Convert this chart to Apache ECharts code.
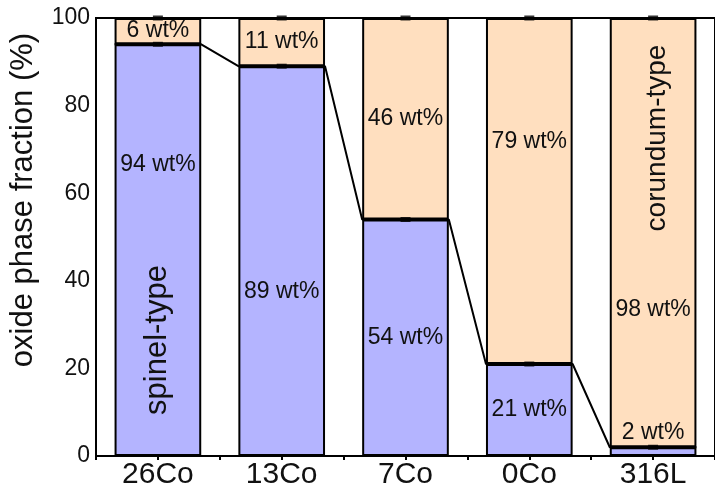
<!DOCTYPE html>
<html>
<head>
<meta charset="utf-8">
<script src="https://cdn.jsdelivr.net/npm/echarts@6/dist/echarts.min.js"></script>
<style>
html,body{margin:0;padding:0;background:#fff;}
#chart{width:715px;height:490px;}
</style>
</head>
<body>
<div id="chart"></div>
<script>
// ---- data ----
var categories = ['26Co', '13Co', '7Co', '0Co', '316L'];
var spinel = [94, 89, 54, 21, 2];
var corundum = [6, 11, 46, 79, 98];
var yTicks = [0, 20, 40, 60, 80, 100];
var spinelLabels = ['94 wt%', '89 wt%', '54 wt%', '21 wt%', '2 wt%'];
var corundumLabels = ['6 wt%', '11 wt%', '46 wt%', '79 wt%', '98 wt%'];

// ---- layout / style (not data) ----
var FONT = 'Liberation Sans';
var SPINEL_COLOR = '#B4B4FF';
var CORUNDUM_COLOR = '#FFDFBF';
var BAR_FRAC = 0.7;
var spinelLabelOffsets = [-85, 31, 0, 0, null];
var corundumLabelOffsets = [0, 0, 0, -49, 77];

var chart = echarts.init(document.getElementById('chart'), null, {renderer: 'canvas'});

var spinelData = spinel.map(function (v, i) {
  var item = {value: v};
  if (spinelLabelOffsets[i] === null) {
    item.label = {position: 'top', distance: 3};
  } else {
    item.label = {offset: [0, spinelLabelOffsets[i]]};
  }
  return item;
});
var corundumData = corundum.map(function (v, i) {
  return {value: v, label: {offset: [0, corundumLabelOffsets[i]]}};
});

// connecting line along the spinel tops, from bar edge to bar edge
var lineData = [];
spinel.forEach(function (v, i) {
  lineData.push([i - BAR_FRAC / 2, v]);
  lineData.push([i + BAR_FRAC / 2, v]);
});

// error bar caps (segment tops)
var totals = spinel.map(function (v, i) { return v + corundum[i]; });
var capData = [];
spinel.forEach(function (v, i) { capData.push([i, v]); });
totals.forEach(function (v, i) { capData.push([i, v]); });

function labelStyle(texts) {
  return {
    show: true, position: 'inside', color: '#111', fontFamily: FONT, fontSize: 23,
    formatter: function (p) { return texts[p.dataIndex]; }
  };
}

chart.setOption({
  animation: false,
  backgroundColor: '#fff',
  grid: {left: 96, right: -8, top: 18, bottom: 33, show: true, borderColor: '#000', borderWidth: 2, backgroundColor: 'transparent'},
  xAxis: [
    {
      type: 'category', data: categories, boundaryGap: true,
      axisLine: {lineStyle: {color: '#000', width: 2}},
      axisTick: {alignWithLabel: true, length: 7, lineStyle: {color: '#000', width: 2}},
      axisLabel: {color: '#111', fontFamily: FONT, fontSize: 30, margin: 4},
      splitLine: {show: false}
    },
    {
      type: 'value', min: -0.5, max: 4.5, interval: 0.5, position: 'bottom',
      axisLine: {show: false},
      axisTick: {show: true, length: 4, lineStyle: {color: '#000', width: 2}},
      axisLabel: {show: false},
      splitLine: {show: false}
    }
  ],
  yAxis: {
    type: 'value', min: yTicks[0], max: yTicks[yTicks.length - 1], interval: 20,
    axisLine: {show: true, lineStyle: {color: '#000', width: 2}},
    axisTick: {show: true, length: 8, lineStyle: {color: '#000', width: 2}},
    minorTick: {show: true, splitNumber: 2, length: 4, lineStyle: {color: '#000', width: 2}},
    axisLabel: {color: '#111', fontFamily: FONT, fontSize: 23, margin: 6},
    splitLine: {show: false}
  },
  series: [
    {
      name: 'spinel', type: 'bar', stack: 'total', xAxisIndex: 0,
      barWidth: (BAR_FRAC * 100) + '%',
      data: spinelData,
      itemStyle: {color: SPINEL_COLOR, borderColor: '#000', borderWidth: 2},
      label: labelStyle(spinelLabels)
    },
    {
      name: 'corundum', type: 'bar', stack: 'total', xAxisIndex: 0,
      data: corundumData,
      itemStyle: {color: CORUNDUM_COLOR, borderColor: '#000', borderWidth: 2},
      label: labelStyle(corundumLabels)
    },
    {
      name: 'link', type: 'line', xAxisIndex: 1, data: lineData,
      showSymbol: false, symbol: 'none',
      lineStyle: {color: '#000', width: 2}, z: 5
    },
    {
      name: 'err', type: 'scatter', xAxisIndex: 0, data: capData,
      symbol: 'rect', symbolSize: [10, 5], itemStyle: {color: '#000'}, z: 6
    }
  ],
  graphic: [
    {type: 'text', rotation: Math.PI / 2, position: [23, 200], z: 100,
     style: {text: 'oxide phase fraction (%)', fill: '#111', font: '31px "Liberation Sans"', textAlign: 'center', textVerticalAlign: 'middle'}},
    {type: 'text', rotation: Math.PI / 2, position: [157, 340], z: 100,
     style: {text: 'spinel-type', fill: '#111', font: '31px "Liberation Sans"', textAlign: 'center', textVerticalAlign: 'middle'}},
    {type: 'text', rotation: Math.PI / 2, position: [657, 138], z: 100,
     style: {text: 'corundum-type', fill: '#111', font: '28px "Liberation Sans"', textAlign: 'center', textVerticalAlign: 'middle'}}
  ]
});
</script>
</body>
</html>
